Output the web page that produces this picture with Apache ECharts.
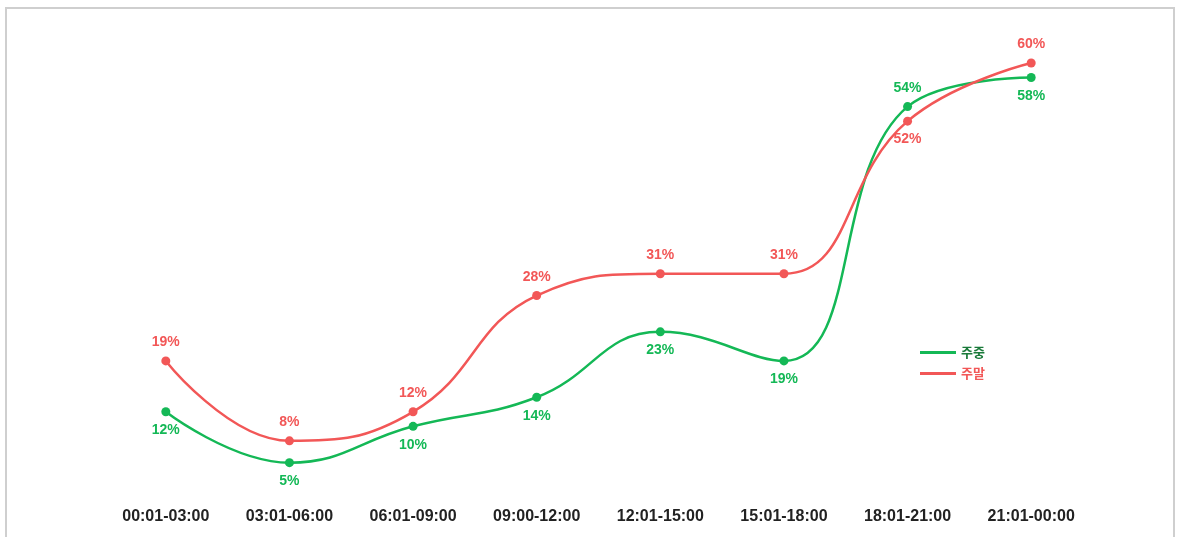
<!DOCTYPE html>
<html>
<head>
<meta charset="utf-8">
<script src="https://cdn.jsdelivr.net/npm/echarts@6/dist/echarts.min.js"></script>
<style>
  html, body { margin: 0; padding: 0; background: #fff; }
  #frame { position: absolute; left: 5px; top: 7px; width: 1170px; height: 540px; border: 2px solid #cfcfcf; box-sizing: border-box; }
  #chart { position: absolute; left: 0; top: 0; width: 1177px; height: 537px; }
</style>
</head>
<body>
<div id="frame"></div>
<div id="chart"></div>
<script>
// Time slots on the x axis
const timeSlots = ['00:01-03:00', '03:01-06:00', '06:01-09:00', '09:00-12:00', '12:01-15:00', '15:01-18:00', '18:01-21:00', '21:01-00:00'];
// Share per time slot (%)
const weekdayValues = [12, 5, 10, 14, 23, 19, 54, 58];
const weekendValues = [19, 8, 12, 28, 31, 31, 52, 60];
const seriesNames = ['주중', '주말'];
// Where each value label sits relative to its point
const weekdayLabelPos = ['bottom', 'bottom', 'bottom', 'bottom', 'bottom', 'bottom', 'top', 'bottom'];
const weekendLabelPos = ['top', 'top', 'top', 'top', 'top', 'top', 'bottom', 'top'];

const GREEN = '#14b856';
const RED = '#f25757';
const FONT = '"Liberation Sans", Arial, sans-serif';

const chart = echarts.init(document.getElementById('chart'));

function lineSeries(name, values, positions, color) {
  return {
    name: name,
    type: 'line',
    data: values.map((v, i) => ({ value: v, label: { position: positions[i] } })),
    smooth: 0.45,
    symbol: 'circle',
    symbolSize: 9,
    lineStyle: { color: color, width: 2.5 },
    itemStyle: { color: color },
    label: {
      show: true,
      distance: 7,
      color: color,
      fontFamily: FONT,
      fontWeight: 'bold',
      fontSize: 14,
      formatter: p => p.value + '%'
    }
  };
}

chart.setOption({
  animation: false,
  grid: { left: 104, right: 84, top: 63, bottom: 38 },
  legend: {
    orient: 'vertical',
    left: 915,
    top: 341,
    itemWidth: 36,
    itemHeight: 3,
    itemGap: 8,
    icon: 'rect',
    data: [
      { name: seriesNames[0], textStyle: { color: '#1a7a3a' } },
      { name: seriesNames[1], textStyle: { color: RED } }
    ],
    textStyle: { fontSize: 13, fontWeight: 'bold', fontFamily: '"Noto Sans CJK KR", sans-serif' }
  },
  xAxis: {
    type: 'category',
    data: timeSlots,
    boundaryGap: true,
    axisLine: { show: false },
    axisTick: { show: false },
    axisLabel: {
      color: '#222',
      fontWeight: 'bold',
      fontSize: 16,
      fontFamily: FONT,
      margin: 10
    }
  },
  yAxis: {
    type: 'value',
    min: 0,
    max: 60,
    show: false,
    splitLine: { show: false }
  },
  series: [
    lineSeries(seriesNames[0], weekdayValues, weekdayLabelPos, GREEN),
    lineSeries(seriesNames[1], weekendValues, weekendLabelPos, RED)
  ]
});
</script>
</body>
</html>
